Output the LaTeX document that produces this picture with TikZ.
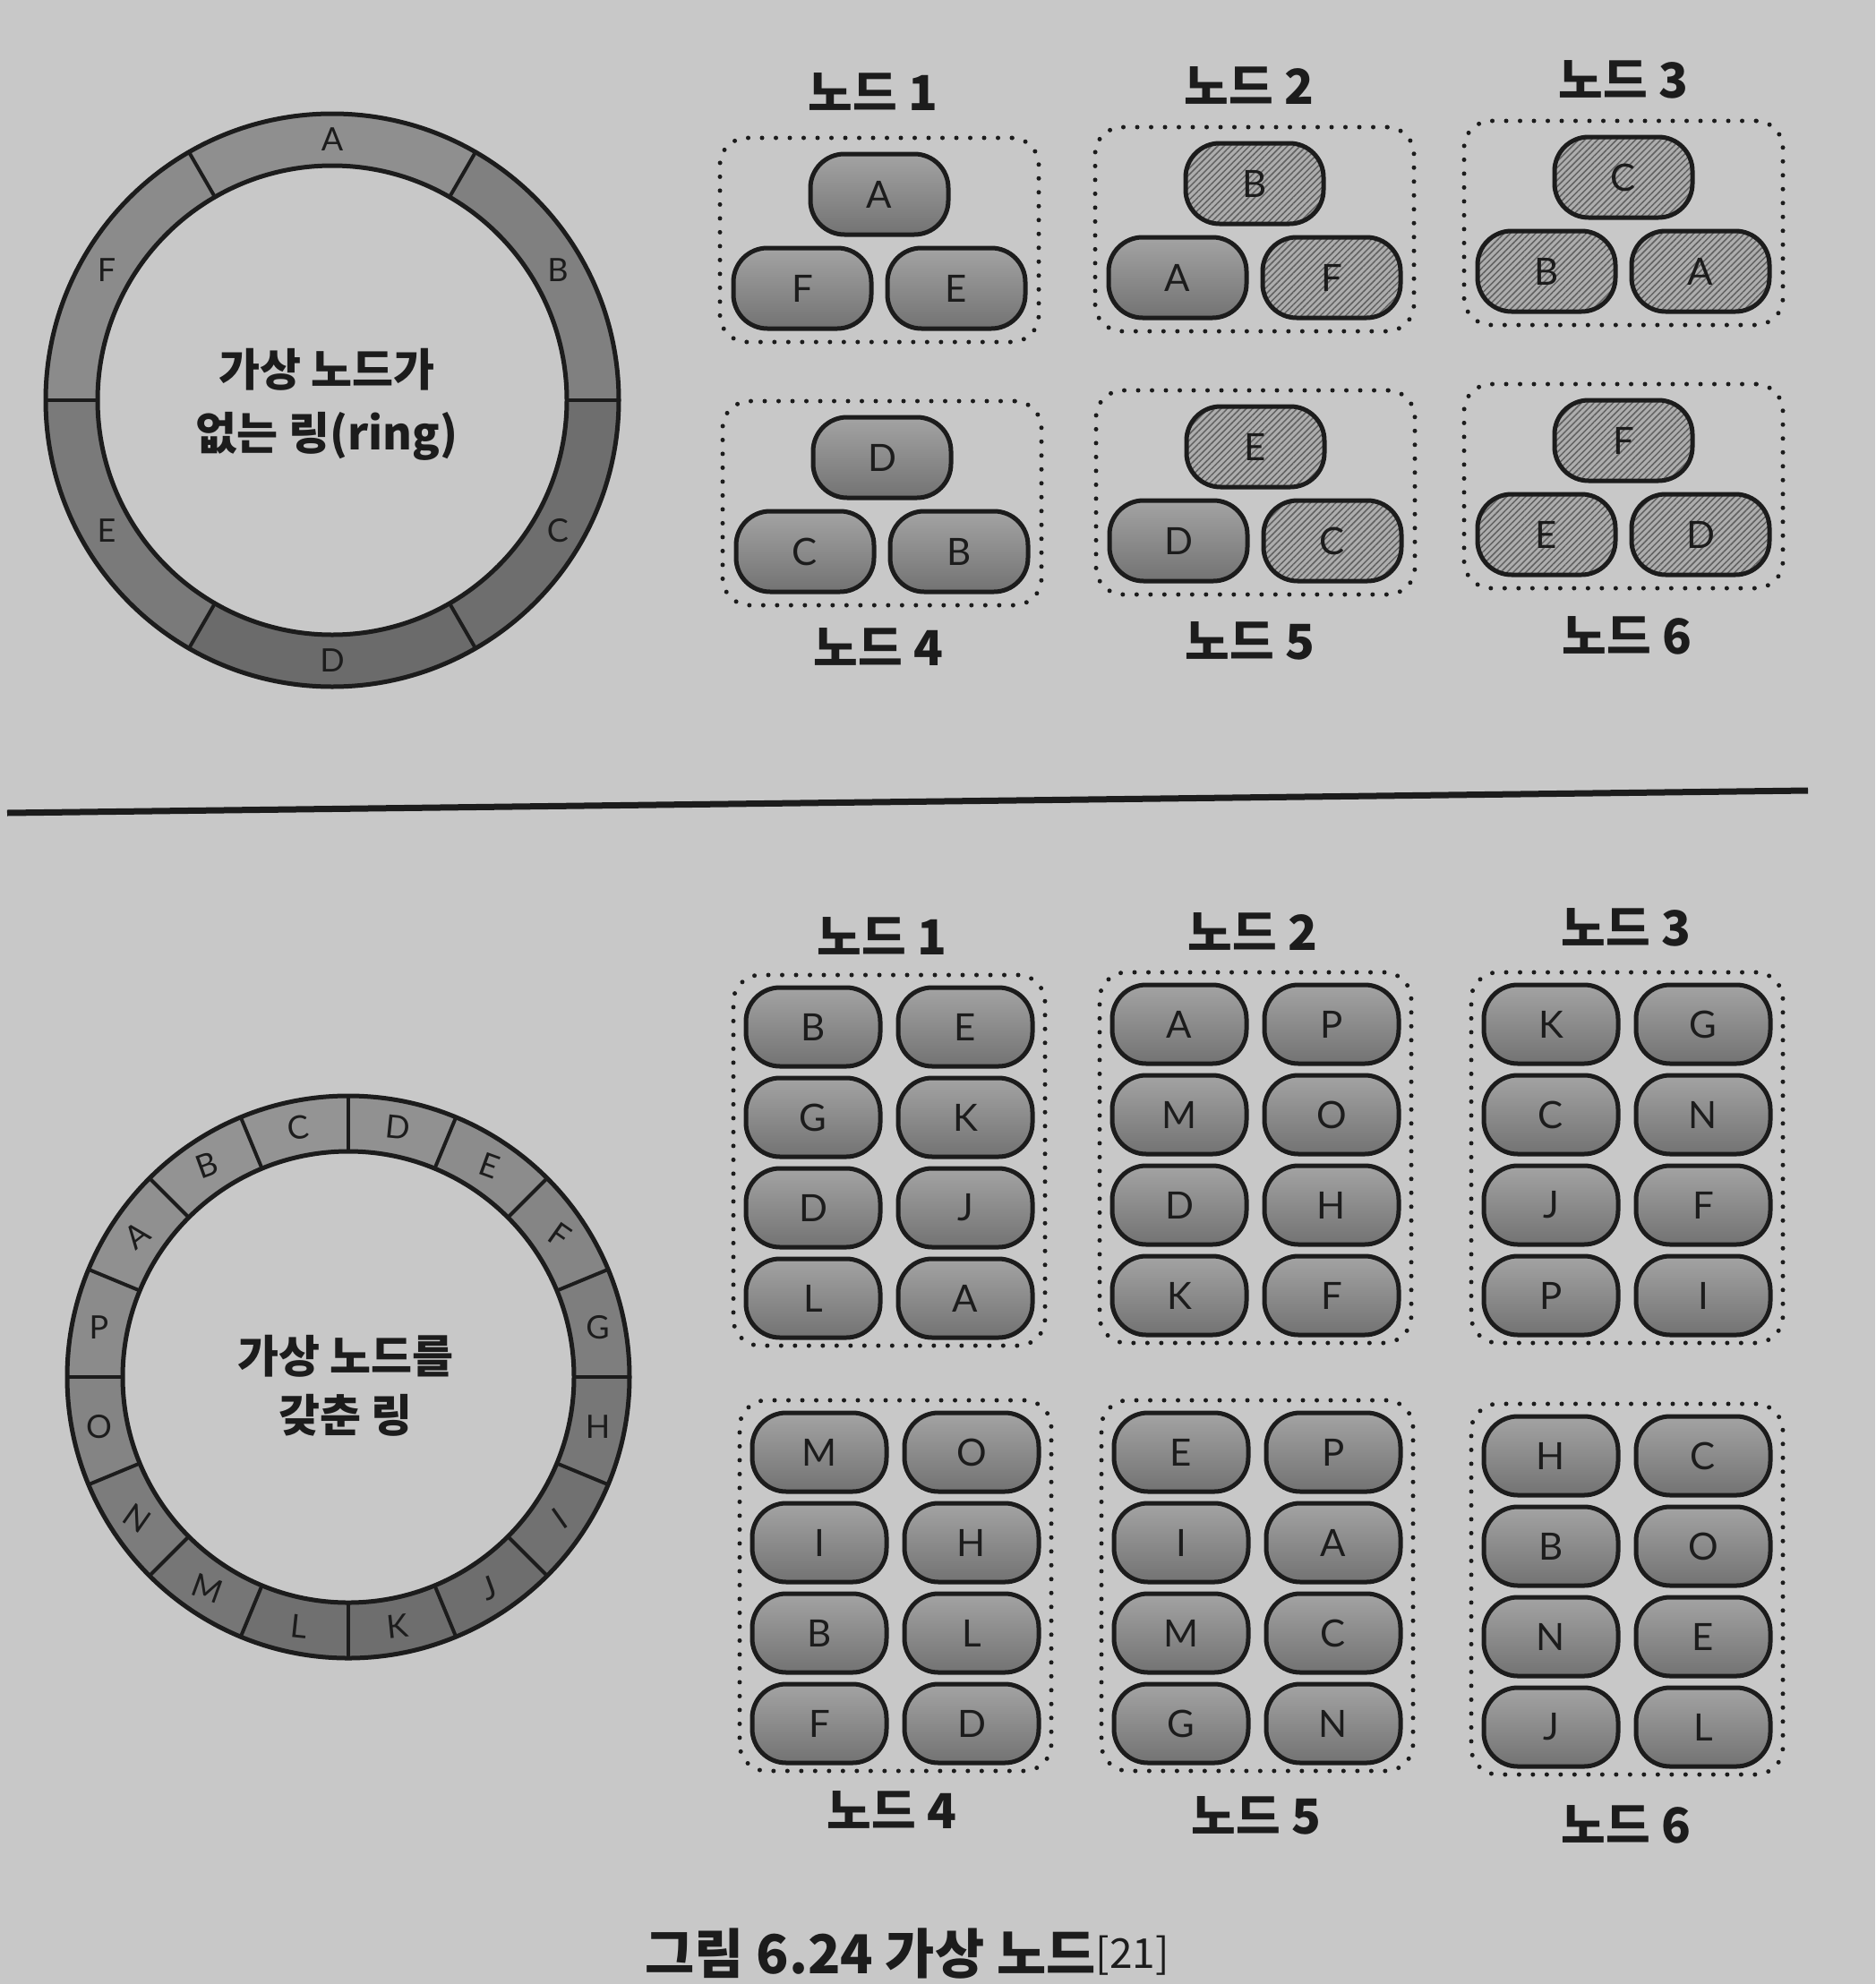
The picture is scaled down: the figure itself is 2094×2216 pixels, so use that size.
\documentclass[tikz,border=0pt]{standalone}
\usepackage{fontspec}
\usetikzlibrary{calc,patterns.meta}
\newfontfamily\krfont{Noto Sans CJK KR}
\newfontfamily\latfont{Lato}
\definecolor{bg}{HTML}{C8C8C8}
\definecolor{ink}{HTML}{1C1C1C}
\tikzset{
  ringline/.style={draw=ink, line width=5pt},
  divline/.style={draw=ink, line width=4pt},
  ringlab/.style={font=\latfont\fontsize{36}{36}\selectfont, text=ink, inner sep=0pt},
  ctext/.style={font=\krfont\bfseries\fontsize{50}{71}\selectfont, text=ink, align=center},
  grouplab/.style={font=\krfont\bfseries\fontsize{54}{54}\selectfont, text=ink},
  groupbox/.style={draw=ink, line width=5pt, dash pattern=on 0pt off 15.5pt, line cap=round, rounded corners=30pt},
  pillbase/.style={draw=ink, line width=5pt, rounded corners=38pt, minimum width=154pt, minimum height=90pt, font=\latfont\fontsize{42}{42}\selectfont, text=ink, inner sep=0pt},
  pill/.style={pillbase, top color=black!36, bottom color=black!55},
  hpill/.style={pillbase, preaction={fill=black!32}, pattern={Lines[angle=45,distance=5pt,line width=1.5pt]}, pattern color=black!62},
  rule/.style={draw=ink, line width=7pt},
}
% top group: id, cx, cy, top letter, style, bottom-left letter, style, bottom-right letter, style
\newcommand\topgroup[9]{%
  \node[groupbox, minimum width=356pt, minimum height=228pt] (T#1box) at (#2,-#3) {};
  \node[#5] (T#1a) at (#2,-#3+51) {#4};
  \node[#7] (T#1b) at (#2-86,-#3-54) {#6};
  \node[#9] (T#1c) at (#2+86,-#3-54) {#8};
}
% bottom group: id, cx, cy, letters
\newcommand\botgroup[4]{%
  \node[groupbox, minimum width=348pt, minimum height=414pt] (B#1box) at (#2,-#3) {};
  \foreach \L [count=\i from 0] in {#4}{%
    \pgfmathtruncatemacro\row{int(\i/2)}%
    \pgfmathtruncatemacro\col{mod(\i,2)}%
    \node[pill, minimum width=150pt, minimum height=88pt] (B#1p\i) at ({#2-85+170*\col},{-#3+149-101*\row}) {\L};
  }%
}
\begin{document}
\begin{tikzpicture}[x=1pt,y=1pt]
\useasboundingbox (0,0) rectangle (2094,-2216);
\fill[bg] (0,0) rectangle (2094,-2216);

% ---------- top ring (no virtual nodes) ----------
\coordinate (R1) at (371,-447);
\foreach \lab/\a in {A/90,B/30,C/-30,D/-90,E/210,F/150}{
  \pgfmathsetmacro\p{51-7.5*cos(\a-110)}
  \fill[black!\p] ($(R1)+(\a-30:320)$) arc[start angle=\a-30, end angle=\a+30, radius=320]
     -- ($(R1)+(\a+30:262)$) arc[start angle=\a+30, end angle=\a-30, radius=262] -- cycle;
}
\draw[ringline] (R1) circle[radius=320];
\draw[ringline] (R1) circle[radius=262];
\foreach \a in {0,60,...,300}{
  \draw[divline] ($(R1)+(\a:262)$) -- ($(R1)+(\a:320)$);
}
\foreach \lab/\a in {A/90,B/30,C/-30,D/-90,E/210,F/150}{
  \node[ringlab] (R1\lab) at ($(R1)+(\a:291)$) {\lab};
}
\node[ctext] (R1text) at (365,-452) {가상 노드가\\없는 링(ring)};

% ---------- top groups ----------
\topgroup{1}{982}{268}{A}{pill}{F}{pill}{E}{pill}
\topgroup{2}{1401}{256}{B}{hpill}{A}{pill}{F}{hpill}
\topgroup{3}{1813}{249}{C}{hpill}{B}{hpill}{A}{hpill}
\topgroup{4}{985}{562}{D}{pill}{C}{pill}{B}{pill}
\topgroup{5}{1402}{550}{E}{hpill}{D}{pill}{C}{hpill}
\topgroup{6}{1813}{543}{F}{hpill}{E}{hpill}{D}{hpill}
\node[grouplab] (T1lab) at (975,-103) {노드 1};
\node[grouplab] (T2lab) at (1395,-96) {노드 2};
\node[grouplab] (T3lab) at (1813,-89) {노드 3};
\node[grouplab] (T4lab) at (981,-723) {노드 4};
\node[grouplab] (T5lab) at (1396,-716) {노드 5};
\node[grouplab] (T6lab) at (1817,-710) {노드 6};

% ---------- divider ----------
\coordinate (HL) at (8,-908);
\coordinate (HR) at (2019,-883);
\draw[rule] (HL) -- (HR);

% ---------- bottom ring (virtual nodes) ----------
\coordinate (R2) at (389,-1538);
\foreach \lab/\k in {D/0,E/1,F/2,G/3,H/4,I/5,J/6,K/7,L/8,M/9,N/10,O/11,P/12,A/13,B/14,C/15}{
  \pgfmathsetmacro\a{78.75-22.5*\k}
  \pgfmathsetmacro\p{49.5-7.5*cos(\a-110)}
  \fill[black!\p] ($(R2)+(\a-11.25:314)$) arc[start angle=\a-11.25, end angle=\a+11.25, radius=314]
     -- ($(R2)+(\a+11.25:252)$) arc[start angle=\a+11.25, end angle=\a-11.25, radius=252] -- cycle;
}
\draw[ringline] (R2) circle[radius=314];
\draw[ringline] (R2) circle[radius=252];
\foreach \k in {0,...,15}{
  \pgfmathsetmacro\a{90-22.5*\k}
  \draw[divline] ($(R2)+(\a:252)$) -- ($(R2)+(\a:314)$);
}
\foreach \lab/\k/\rot in {D/0/-6,E/1/-20,F/2/-35,G/3/0,H/4/0,I/5/35,J/6/20,K/7/6,L/8/-6,M/9/-20,N/10/-35,O/11/0,P/12/0,A/13/38,B/14/20,C/15/6}{
  \pgfmathsetmacro\a{78.75-22.5*\k}
  \node[ringlab, rotate=\rot] (R2\lab) at ($(R2)+(\a:284)$) {\lab};
}
\node[ctext, font=\krfont\bfseries\fontsize{50}{66}\selectfont] (R2text) at (386,-1548) {가상 노드를\\갖춘 링};

% ---------- bottom groups ----------
\botgroup{1}{993}{1296}{B,E,G,K,D,J,L,A}
\botgroup{2}{1402}{1293}{A,P,M,O,D,H,K,F}
\botgroup{3}{1817}{1293}{K,G,C,N,J,F,P,I}
\botgroup{4}{1000}{1771}{M,O,I,H,B,L,F,D}
\botgroup{5}{1404}{1771}{E,P,I,A,M,C,G,N}
\botgroup{6}{1817}{1775}{H,C,B,O,N,E,J,L}
\node[grouplab] (B1lab) at (985,-1046) {노드 1};
\node[grouplab] (B2lab) at (1399,-1041) {노드 2};
\node[grouplab] (B3lab) at (1816,-1036) {노드 3};
\node[grouplab] (B4lab) at (996,-2021) {노드 4};
\node[grouplab] (B5lab) at (1403,-2028) {노드 5};
\node[grouplab] (B6lab) at (1816,-2038) {노드 6};

% ---------- caption ----------
\node[anchor=base, font=\krfont\bfseries\fontsize{60}{60}\selectfont, text=ink, inner sep=0pt] (cap) at (1013,-2204)
  {그림 6.24 가상 노드{\mdseries\fontsize{46}{46}\selectfont\raisebox{6pt}{[21]}}};
\end{tikzpicture}
\end{document}
